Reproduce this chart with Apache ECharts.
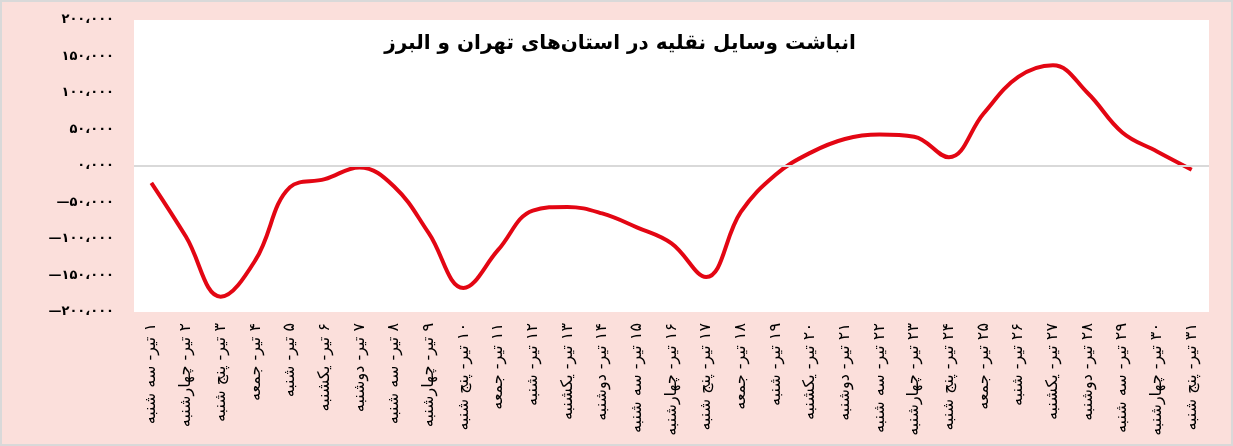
<!DOCTYPE html>
<html><head><meta charset="utf-8">
<script src="https://cdn.jsdelivr.net/npm/echarts@6/dist/echarts.min.js"></script>
<style>
html,body{margin:0;padding:0;background:#fff;}
#c{width:1233px;height:446px;box-sizing:border-box;border:2px solid #d9d9d9;background:#fbdfdb;}
</style></head>
<body><div id="c"></div>
<script>
const titleText = 'انباشت وسایل نقلیه در استان‌های تهران و البرز';
const days = ['۱','۲','۳','۴','۵','۶','۷','۸','۹','۱۰','۱۱','۱۲','۱۳','۱۴','۱۵','۱۶','۱۷','۱۸','۱۹','۲۰','۲۱','۲۲','۲۳','۲۴','۲۵','۲۶','۲۷','۲۸','۲۹','۳۰','۳۱'];
const weekdays = ['سه شنبه','چهارشنبه','پنج شنبه','جمعه','شنبه','یکشنبه','دوشنبه'];
const categories = days.map((d,i)=> d + ' تیر- ' + weekdays[i % 7]);
const values = [-23000,-97000,-179000,-129000,-29000,-18000,-2000,-28000,-92000,-167000,-115000,-61000,-56000,-65000,-84000,-106000,-152000,-63000,-12000,18000,37000,43000,40000,12000,72000,122000,138000,100000,46000,20000,-5000];
const yMin = -200000, yMax = 200000, yStep = 50000;

function fa(n){
  if (n === 0) return '۰،۰۰۰';
  const s = Math.abs(n).toString().replace(/\B(?=(\d{3})+(?!\d))/g,'،');
  const p = s.replace(/\d/g, d => '۰۱۲۳۴۵۶۷۸۹'[d]);
  return (n < 0 ? '—' : '') + p;
}

const chart = echarts.init(document.getElementById('c'));
chart.setOption({
  backgroundColor: 'transparent',
  title: {
    text: titleText, left: 613, top: 27, textAlign: 'center',
    textStyle: {fontFamily: 'DejaVu Sans', fontWeight: 'bold', fontSize: 20, color: '#000'}
  },
  grid: {left: 132, right: 22, top: 18, bottom: 132, show: true, backgroundColor: '#ffffff', borderWidth: 0},
  xAxis: {
    type: 'category', data: categories, boundaryGap: true,
    axisLine: {show: false}, axisTick: {show: false},
    axisLabel: {rotate: 90, interval: 0, margin: 11, fontFamily: 'DejaVu Sans', fontSize: 16, color: '#000',
      formatter: v => '\u202B' + v + '\u202C'}
  },
  yAxis: {
    type: 'value', min: yMin, max: yMax, interval: yStep,
    axisLine: {show: false}, axisTick: {show: false},
    splitLine: {show: false},
    axisLabel: {margin: 20, fontFamily: 'DejaVu Sans', fontWeight: 'bold', fontSize: 13, color: '#000', formatter: v => fa(v)}
  },
  series: [{
    type: 'line', data: values, smooth: 0.4, symbol: 'none',
    lineStyle: {color: '#e30613', width: 4},
    markLine: {silent: true, symbol: 'none', label: {show: false},
      lineStyle: {color: '#d9d9d9', width: 2, type: 'solid'}, data: [{yAxis: 0}]},
    z: 3
  }],
  animation: false
});
</script></body></html>
